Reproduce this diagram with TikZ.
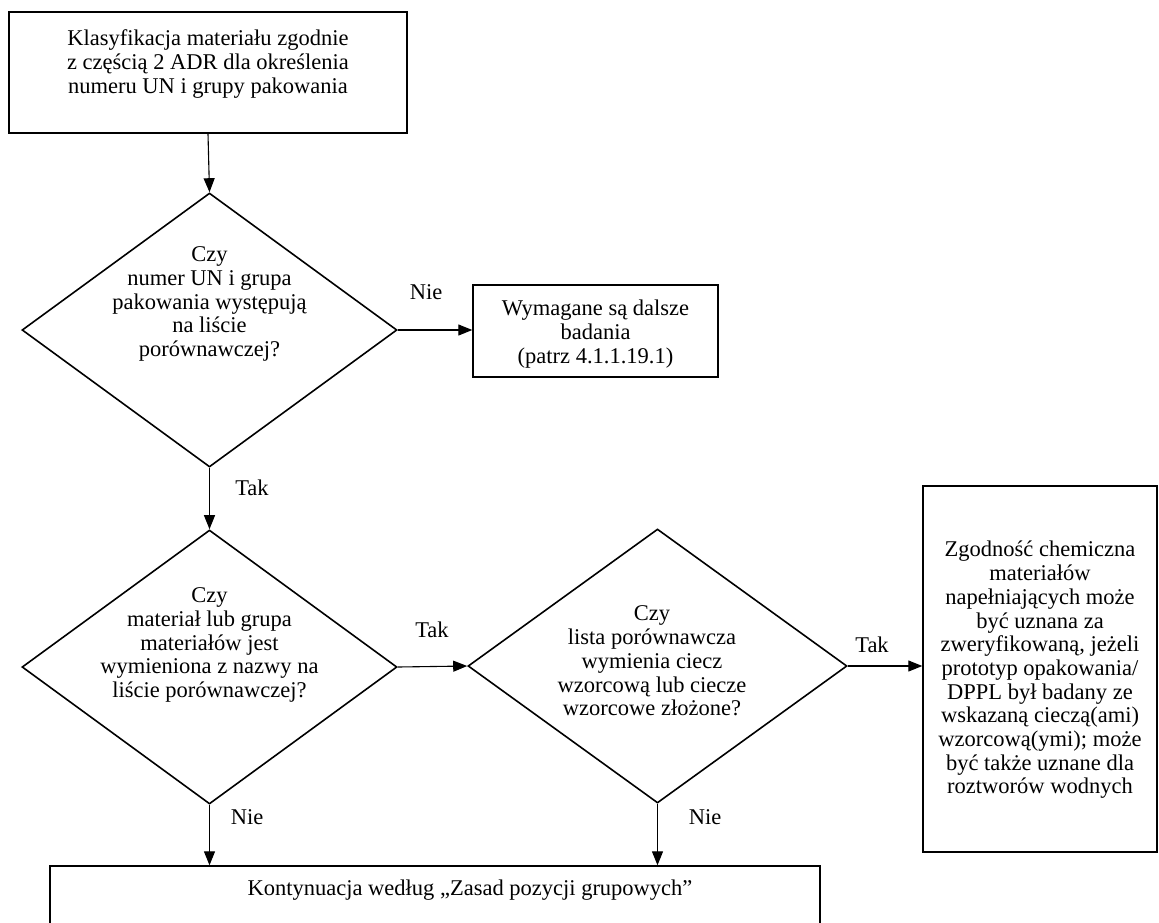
\documentclass[tikz,border=0pt]{standalone}
\usepackage{fontspec}
\setmainfont{Liberation Serif}
\usetikzlibrary{shapes.geometric,arrows.meta}
\begin{document}
\begin{tikzpicture}[x=1pt,y=-1pt,
  box/.style={draw, line width=1.4pt, inner sep=0pt},
  dia/.style={draw, diamond, line width=1.6pt, inner sep=0pt, minimum width=375pt, minimum height=274pt},
  txt/.style={align=center, font=\fontsize{22.5}{23.7}\selectfont, inner sep=0pt},
  lbl/.style={font=\fontsize{22.5}{23.7}\selectfont, inner sep=0pt},
  arr/.style={-{Triangle[length=14pt,width=11pt]}, line width=1.1pt}]
\useasboundingbox[fill=white] (0,0) rectangle (1159,922);
% boxes
\node[box, minimum width=398pt, minimum height=121pt] (b1) at (208,72.5) {};
\node[txt] (t1) at (208,64) {Klasyfikacja materiału zgodnie\\z częścią 2 ADR dla określenia\\numeru UN i grupy pakowania};
\node[box, minimum width=245pt, minimum height=92pt] (b2) at (595.5,331) {};
\node[txt] (t2) at (595.5,334) {Wymagane są dalsze\\badania\\(patrz 4.1.1.19.1)};
\node[box, minimum width=234pt, minimum height=366pt] (b3) at (1040,669) {};
\node[txt] (t3) at (1040,670) {Zgodność chemiczna\\materiałów\\napełniających może\\być uznana za\\zweryfikowaną, jeżeli\\prototyp opakowania/\\DPPL był badany ze\\wskazaną cieczą(ami)\\wzorcową(ymi); może\\być także uznane dla\\roztworów wodnych};
\node[box, minimum width=770pt, minimum height=80pt] (b4) at (435,906) {};
\node[txt] (t4) at (470,890) {Kontynuacja według „Zasad pozycji grupowych”};
% diamonds
\node[dia] (d1) at (209.5,330) {};
\node[txt] (q1) at (209.5,304) {Czy\\numer UN i grupa\\pakowania występują\\na liście\\porównawczej?};
\node[dia] (d2) at (209.5,667) {};
\node[txt] (q2) at (209.5,645) {Czy\\materiał lub grupa\\materiałów jest\\wymieniona z nazwy na\\liście porównawczej?};
\node[dia, minimum width=379pt] (d3) at (657.5,666) {};
\node[txt] (q3) at (652,661) {Czy\\lista porównawcza\\wymienia ciecz\\wzorcową lub ciecze\\wzorcowe złożone?};
% connectors
\draw[arr] (b1.south) -- (d1.north);
\draw[arr] (d1.east) -- (d1.east -| b2.west);
\draw[arr] (d1.south) -- (d2.north);
\draw[arr] (d2.east) -- (d3.west);
\draw[arr] (d3.east) -- (d3.east -| b3.west);
\draw[arr] (d2.south) -- (d2.south |- b4.north);
\draw[arr] (d3.south) -- (d3.south |- b4.north);
% labels
\node[lbl] (l1) at (426,292) {Nie};
\node[lbl] (l2) at (252,488) {Tak};
\node[lbl] (l3) at (432,630) {Tak};
\node[lbl] (l4) at (872,645) {Tak};
\node[lbl] (l5) at (247,817) {Nie};
\node[lbl] (l6) at (705,817) {Nie};
\end{tikzpicture}
\end{document}
